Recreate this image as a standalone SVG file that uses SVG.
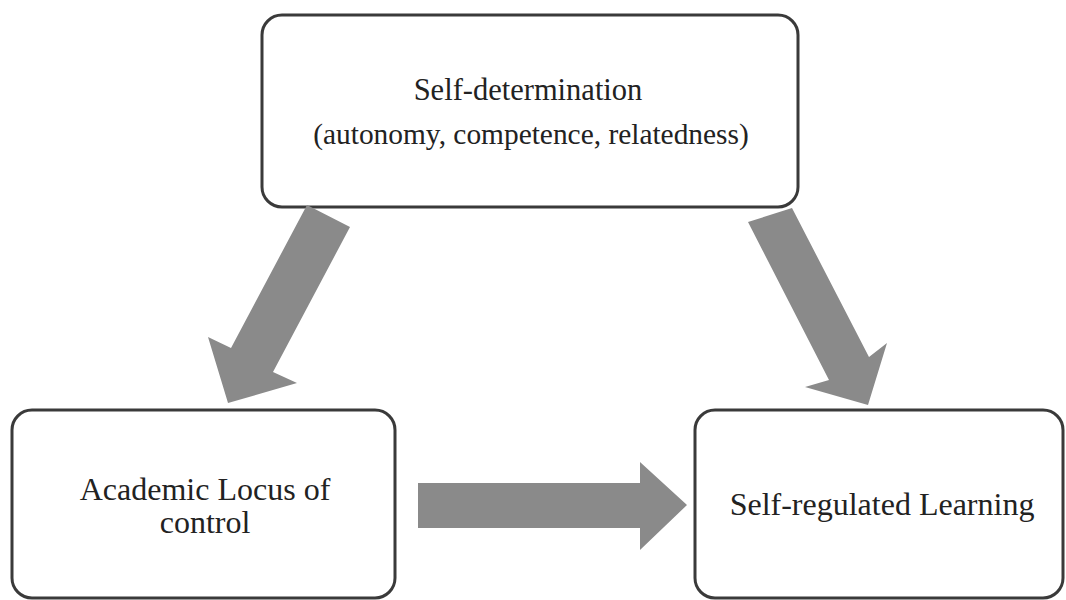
<svg xmlns="http://www.w3.org/2000/svg" width="1066" height="600" viewBox="0 0 1066 600">
<style>
.box{fill:#ffffff;stroke:#3a3a3a;stroke-width:3}
.lbl{fill:#222222;text-anchor:middle}
.arr{fill:#8a8a8a}
</style>
<rect width="1066" height="600" fill="#ffffff"/>
<g id="node-self-determination">
<rect class="box" x="262" y="15" width="536" height="192" rx="20"/>
<text class="lbl" x="528" y="100" font-size="30.5" font-family="Liberation Serif, Tinos, Times New Roman, DejaVu Serif, serif">Self-determination</text>
<text class="lbl" x="531" y="144" font-size="29.4" font-family="Liberation Serif, Tinos, Times New Roman, DejaVu Serif, serif">(autonomy, competence, relatedness)</text>
</g>
<g id="node-academic-locus">
<rect class="box" x="12" y="410" width="383" height="188" rx="20"/>
<text class="lbl" x="205" y="500" font-size="32" font-family="Liberation Serif, Tinos, Times New Roman, DejaVu Serif, serif">Academic Locus of</text>
<text class="lbl" x="205" y="533" font-size="32" font-family="Liberation Serif, Tinos, Times New Roman, DejaVu Serif, serif">control</text>
</g>
<g id="node-self-regulated">
<rect class="box" x="695" y="410" width="368" height="188" rx="20"/>
<text class="lbl" x="882" y="515" font-size="32" font-family="Liberation Serif, Tinos, Times New Roman, DejaVu Serif, serif">Self-regulated Learning</text>
</g>
<g id="connectors">
<polygon class="arr" points="307,205 350,227 273,372 297,383 228,403 208,337 231,348"/>
<polygon class="arr" points="748,222 792,208 869,357 887,343 868,405 805,387 829,380"/>
<polygon class="arr" points="418,483 640,483 640,462 687,505 640,550 640,528 418,528"/>
</g>
</svg>
